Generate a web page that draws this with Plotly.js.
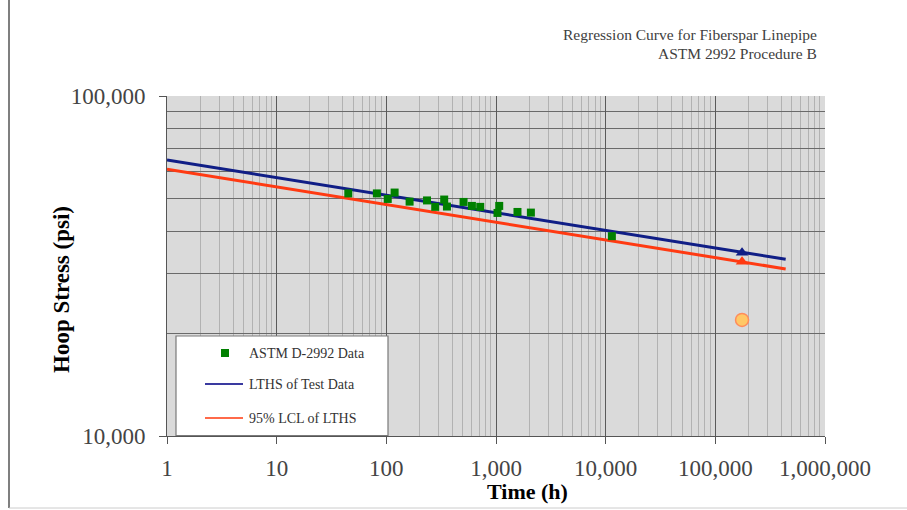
<!DOCTYPE html>
<html>
<head>
<meta charset="utf-8">
<script src="https://cdn.plot.ly/plotly-3.0.1.min.js"></script>
<style>
  html, body { margin: 0; padding: 0; background: #ffffff; }
  #chart { width: 907px; height: 510px; }
</style>
</head>
<body>
<div id="chart"></div>
<script>
// ---- data ----
const testHours  = [45, 82, 103, 119, 163, 235, 279, 337, 357, 506, 603, 718, 1070, 1032, 1570, 2080, 11390];
const testStress = [51700, 51700, 49800, 52000, 48900, 49300, 47200, 49600, 47300, 48800, 47500, 47200, 47500, 45300, 45600, 45400, 38700];

const fitHours = [1, 438000];
const lthsFit  = [64800, 33100];
const lclFit   = [60900, 31000];

const designHours  = [175200];
const lthsAtDesign = [34600];
const lclAtDesign  = [32550];
const ratedStress  = [21950];

const xTickVals = [1, 10, 100, 1000, 10000, 100000, 1000000];
const xTickText = ['1', '10', '100', '1,000', '10,000', '100,000', '1,000,000'];
const yTickVals = [10000, 100000];
const yTickText = ['10,000', '100,000'];

const seriesNames = ['ASTM D-2992 Data', 'LTHS of Test Data', '95% LCL of LTHS'];
const titleLines  = ['Regression Curve for Fiberspar Linepipe', 'ASTM 2992 Procedure B'];

// ---- styles ----
const SERIF = 'Liberation Serif, Times New Roman, serif';
const BLUE = '#101e86';
const RED = '#ff3a12';
const GREEN = '#008000';

// plot-area geometry (px) for placing decorations in paper coords
const L = 167, R = 825, T = 96, B = 436;
const px = x => (x - L) / (R - L);
const py = y => (B - y) / (B - T);

// minor gridline positions (2..9 in each decade)
const xMinor = [];
for (let d = 0; d < 6; d++) for (let k = 2; k <= 9; k++) xMinor.push(k * Math.pow(10, d));
const yMinor = [];
for (let k = 2; k <= 9; k++) yMinor.push(k * 10000);

const traces = [
  { x: fitHours, y: lthsFit, type: 'scatter', mode: 'lines', name: seriesNames[1],
    line: { color: BLUE, width: 3 } },
  { x: fitHours, y: lclFit, type: 'scatter', mode: 'lines', name: seriesNames[2],
    line: { color: RED, width: 3 } },
  { x: testHours, y: testStress, type: 'scatter', mode: 'markers', name: seriesNames[0],
    marker: { symbol: 'square', size: 8, color: GREEN } },
  { x: designHours, y: lthsAtDesign, type: 'scatter', mode: 'markers',
    marker: { symbol: 'triangle-up', size: 11, color: BLUE } },
  { x: designHours, y: lclAtDesign, type: 'scatter', mode: 'markers',
    marker: { symbol: 'triangle-up', size: 11, color: RED } },
  { x: designHours, y: ratedStress, type: 'scatter', mode: 'markers',
    marker: { symbol: 'circle', size: 13, color: '#ffc866', line: { color: '#ff8c5a', width: 1.5 } } }
];

const shapes = [
  // outer frame
  { type: 'line', xref: 'paper', yref: 'paper', x0: px(9), x1: px(9), y0: py(0), y1: py(508),
    line: { color: '#555555', width: 1.5 } },
  { type: 'line', xref: 'paper', yref: 'paper', x0: px(9), x1: px(907), y0: py(508), y1: py(508),
    line: { color: '#cccccc', width: 1 } },
  // legend box
  { type: 'rect', xref: 'paper', yref: 'paper', layer: 'above',
    x0: px(176), x1: px(388), y0: py(435.5), y1: py(336),
    fillcolor: '#ffffff', line: { color: '#7a7a7a', width: 1.2 } },
  { type: 'rect', xref: 'paper', yref: 'paper', layer: 'above',
    x0: px(221), x1: px(229), y0: py(357), y1: py(349),
    fillcolor: GREEN, line: { width: 0 } },
  { type: 'line', xref: 'paper', yref: 'paper', layer: 'above',
    x0: px(205), x1: px(243), y0: py(384), y1: py(384), line: { color: '#3a3aa0', width: 2 } },
  { type: 'line', xref: 'paper', yref: 'paper', layer: 'above',
    x0: px(205), x1: px(243), y0: py(418), y1: py(418), line: { color: '#ff6a4a', width: 2 } }
];

const legendFont = { family: SERIF, size: 14, color: '#333333' };
const annotations = [
  { xref: 'paper', yref: 'paper', x: px(247), y: py(353), xanchor: 'left', yanchor: 'middle',
    text: seriesNames[0], showarrow: false, font: legendFont },
  { xref: 'paper', yref: 'paper', x: px(247), y: py(384), xanchor: 'left', yanchor: 'middle',
    text: seriesNames[1], showarrow: false, font: legendFont },
  { xref: 'paper', yref: 'paper', x: px(247), y: py(418), xanchor: 'left', yanchor: 'middle',
    text: seriesNames[2], showarrow: false, font: legendFont },
  // chart title (top right)
  { xref: 'paper', yref: 'paper', x: px(819), y: py(35), xanchor: 'right', yanchor: 'middle',
    text: titleLines[0], showarrow: false, font: { family: SERIF, size: 15.5, color: '#404040' } },
  { xref: 'paper', yref: 'paper', x: px(819), y: py(53), xanchor: 'right', yanchor: 'middle',
    text: titleLines[1], showarrow: false, font: { family: SERIF, size: 15.5, color: '#404040' } },
  // axis titles
  { xref: 'paper', yref: 'paper', x: px(527), y: py(491), xanchor: 'center', yanchor: 'middle',
    text: '<b>Time (h)</b>', showarrow: false, font: { family: SERIF, size: 22, color: '#000000' } },
  { xref: 'paper', yref: 'paper', x: px(61), y: py(290), xanchor: 'center', yanchor: 'middle',
    text: '<b>Hoop Stress (psi)</b>', textangle: -90, showarrow: false,
    font: { family: SERIF, size: 23, color: '#000000' } }
];

const layout = {
  width: 907, height: 510,
  margin: { l: L, r: 907 - R, t: T, b: 510 - B, pad: 0 },
  paper_bgcolor: '#ffffff',
  plot_bgcolor: '#dadada',
  showlegend: false,
  hovermode: false,
  font: { family: SERIF, color: '#444444' },
  xaxis: {
    type: 'log', range: [0, 6],
    tickmode: 'array', tickvals: xTickVals, ticktext: xTickText,
    ticks: 'outside', ticklen: 7, tickcolor: '#555555', tickwidth: 1,
    showline: true, linecolor: '#555555', linewidth: 1,
    showgrid: true, gridcolor: '#5a5a5a', gridwidth: 1,
    minor: { tickmode: 'array', tickvals: xMinor, showgrid: true, gridcolor: '#b2b2b2', gridwidth: 1, ticks: '' },
    tickfont: { family: SERIF, size: 23, color: '#444444' },
    ticklabelstandoff: 4,
    zeroline: false
  },
  yaxis: {
    type: 'log', range: [4, 5],
    tickmode: 'array', tickvals: yTickVals, ticktext: yTickText,
    ticks: 'outside', ticklen: 7, tickcolor: '#555555', tickwidth: 1,
    showline: true, linecolor: '#555555', linewidth: 1,
    showgrid: true, gridcolor: '#6a6a6a', gridwidth: 1,
    minor: { tickmode: 'array', tickvals: yMinor, showgrid: true, gridcolor: '#6a6a6a', gridwidth: 1, ticks: '' },
    tickfont: { family: SERIF, size: 23, color: '#444444' },
    ticklabelstandoff: 9,
    zeroline: false
  },
  shapes: shapes,
  annotations: annotations
};

Plotly.newPlot('chart', traces, layout, { staticPlot: true, displayModeBar: false });
</script>
</body>
</html>
